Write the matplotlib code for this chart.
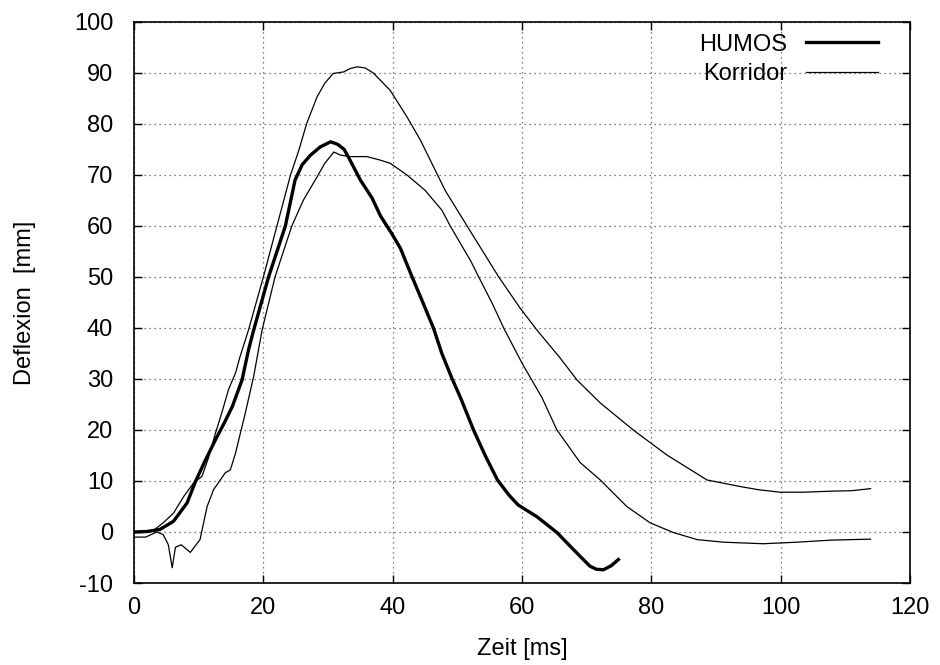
import matplotlib
matplotlib.use("Agg")
import matplotlib.pyplot as plt
from matplotlib.lines import Line2D

plt.rcParams["font.family"] = ["Liberation Sans", "DejaVu Sans"]
plt.rcParams["axes.unicode_minus"] = False

# HUMOS simulation curve (thick)
humos_t = [0, 2, 4, 6.1, 8.2, 9.5, 11.0, 12.6, 14.0, 15.2, 16.7, 17.7, 18.5,
           20.8, 23.4, 24.9, 26.0, 27.3, 28.8, 30.4, 31.5, 32.5, 33.4, 35.0,
           36.8, 38.1, 39.9, 41.2, 43.0, 44.5, 46.3, 47.6, 49.2, 50.5, 52.5,
           54.3, 56.2, 58.0, 59.4, 62.3, 65.4, 68.0, 70.5, 71.5, 72.6, 73.8,
           74.9]
humos_d = [0, 0.1, 0.5, 2.1, 5.7, 9.9, 14.0, 18.1, 21.5, 24.6, 29.8, 35.7, 39.6,
           50, 60, 69, 72.0, 73.9, 75.5, 76.5, 76.0, 75.0, 72.9, 69,
           65.5, 62, 58.4, 55.6, 50, 45.5, 40, 35, 30, 26.3, 20,
           15, 10.2, 7.2, 5.3, 3, -0.1, -3.5, -6.7, -7.3, -7.4, -6.6,
           -5.4]

# corridor upper bound
upper_t = [0, 3, 4.5, 6.1, 7.7, 9.2, 10.5, 11.5, 12.6, 13.6, 14.6, 15.7, 16.4,
           17.7, 20.0, 22.1, 24.2, 25.5, 26.7, 28.3, 29.5, 30.8, 32.4, 33.5,
           34.5, 35.7, 37.0, 39.6, 42.2, 44.3, 48.1, 51.5, 56.4, 59.7, 62.3,
           65.9, 68.5, 72.1, 77.2, 82.4, 88.6, 93.8, 96.5, 99.9, 103.5, 107.7,
           111.0, 113.9]
upper_d = [0, 0.3, 1.8, 3.7, 7, 9.6, 10.9, 14.5, 19.4, 23.5, 27.9, 31.2, 34.4,
           39.6, 50, 60, 70, 74.9, 80.1, 85.3, 88.0, 89.9, 90.2, 90.9,
           91.2, 91.0, 90, 86.6, 81.4, 76.8, 67, 60, 50, 43.9, 39.6,
           34.1, 29.8, 25.3, 20, 15.1, 10.2, 8.9, 8.3, 7.8, 7.8, 8.0,
           8.1, 8.5]

# corridor lower bound
lower_t = [0, 1.8, 3.5, 4.5, 5.3, 5.9, 6.4, 7.3, 8.7, 10.2, 11.3, 12.3, 14.1,
           14.9, 15.7, 17.2, 18.5, 19.8, 21.8, 24.4, 26.2, 28.3, 29.5, 30.9,
           31.9, 33.4, 36.0, 38.1, 39.6, 42.2, 45.0, 47.6, 48.9, 51.2, 52.0,
           53.3, 55.4, 57.2, 60.0, 63.1, 65.4, 69.0, 72.1, 76.2, 79.8, 83.4,
           87.1, 91.2, 97.3, 102.5, 107.7, 113.9]
lower_d = [-1, -1, 0, -0.5, -2.5, -7, -3, -2.5, -4, -1.5, 5, 8.3, 11.6,
           12.2, 15.5, 23.3, 30.5, 39.6, 50, 60, 65.1, 69.6, 72.3, 74.5,
           73.9, 73.6, 73.6, 72.9, 72.3, 70, 67, 63.1, 60, 55, 53.3,
           50, 44.8, 39.9, 33.1, 26.3, 20, 13.6, 10.2, 5, 1.8, -0.1,
           -1.5, -2, -2.3, -2, -1.6, -1.4]

x_ticks = [0, 20, 40, 60, 80, 100, 120]
y_ticks = [-10, 0, 10, 20, 30, 40, 50, 60, 70, 80, 90, 100]

fs = 17

fig = plt.figure(figsize=(9.4, 6.65), dpi=100)
ax = fig.add_axes([0.1426, 0.1233, 0.8255, 0.8437])

ax.plot(upper_t, upper_d, color="black", linewidth=0.9)
ax.plot(lower_t, lower_d, color="black", linewidth=0.9)
ax.plot(humos_t, humos_d, color="black", linewidth=2.4)

ax.set_xlim(0, 120)
ax.set_ylim(-10, 100)
ax.set_xticks(x_ticks)
ax.set_yticks(y_ticks)
ax.tick_params(direction="in", length=6, width=1, top=True, right=True,
               labelsize=fs, colors="black")
ax.tick_params(axis="x", pad=10)
ax.tick_params(axis="y", pad=15)
ax.grid(True, color="#555555", linestyle=(0, (1, 3)), linewidth=0.9)
for s in ax.spines.values():
    s.set_linewidth(1.2)

ax.set_xlabel("Zeit [ms]", fontsize=fs, labelpad=14)
ax.set_ylabel("Deflexion  [mm]", fontsize=fs, labelpad=27)

# gnuplot style key: text left, sample right
handles = [Line2D([], [], color="black", linewidth=2.4),
           Line2D([], [], color="black", linewidth=0.9)]
ax.legend(handles, ["HUMOS", "Korridor"], loc="upper right",
          bbox_to_anchor=(0.974, 1.0), frameon=False,
          markerfirst=False, fontsize=fs, handlelength=3.05,
          handletextpad=0.8, labelspacing=0.3, borderaxespad=0,
          borderpad=0.5)

fig.savefig("out.png", dpi=100)
